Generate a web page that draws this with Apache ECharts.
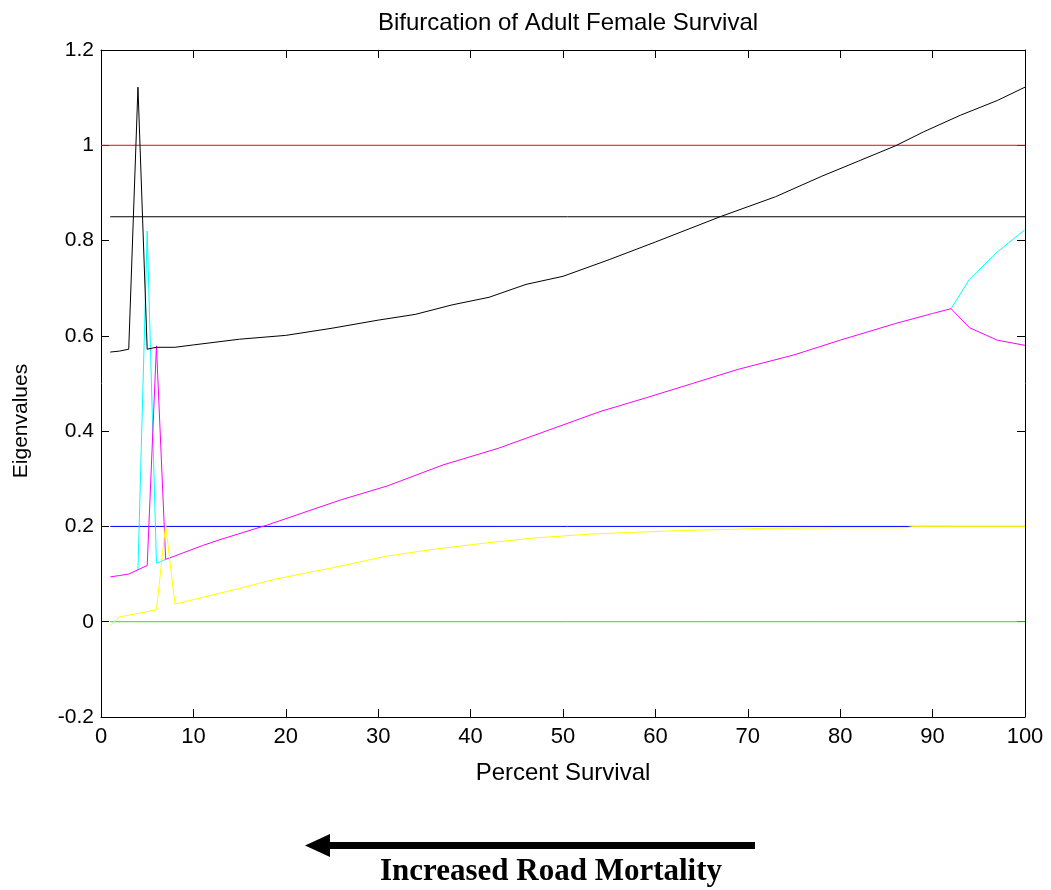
<!DOCTYPE html>
<html>
<head>
<meta charset="utf-8">
<script src="https://cdn.jsdelivr.net/npm/echarts@6/dist/echarts.min.js"></script>
<style>
html,body{margin:0;padding:0;background:#fff;}
#chart{width:1051px;height:890px;}
</style>
</head>
<body>
<div id="chart"></div>
<script>
// ---- data ----
const xTickValues = [0,10,20,30,40,50,60,70,80,90,100];
const yTickValues = [-0.2,0,0.2,0.4,0.6,0.8,1.0,1.2];

// dominant eigenvalue (black)
const blackX = [1,2,3,4,5,6,8,10,15,20,25,30,34,38,42,46,50,55,60,67,73,78,82,86,89,93,97,100];
const blackY = [0.566,0.568,0.572,1.122,0.572,0.576,0.576,0.581,0.593,0.601,0.616,0.633,0.645,0.665,0.681,0.708,0.725,0.760,0.797,0.850,0.892,0.935,0.967,0.999,1.028,1.063,1.094,1.122];

// second eigenvalue (magenta)
const magentaX = [1,2,3,4,5,6,7,8,11,13,18,26,31,37,43,49,54,59,64,69,75,80,86,90,92,94,97,100];
const magentaY = [0.094,0.097,0.100,0.109,0.118,0.579,0.131,0.138,0.160,0.173,0.203,0.256,0.285,0.329,0.364,0.406,0.441,0.470,0.500,0.530,0.560,0.591,0.626,0.647,0.657,0.617,0.591,0.580];

// third eigenvalue (cyan) - visible parts (elsewhere coincides with magenta)
const cyanX1 = [4,5,6,7];
const cyanY1 = [0.109,0.820,0.123,0.131];
const cyanX2 = [92,94,97,100];
const cyanY2 = [0.657,0.719,0.776,0.823];

// fourth eigenvalue (yellow)
const yellowX = [1,2,6,7,8,11,15,19,25,31,36,42,47,53,58,64,72,80,87,88,100];
const yellowY = [-0.008,0.010,0.025,0.204,0.037,0.051,0.070,0.090,0.113,0.138,0.152,0.166,0.176,0.184,0.188,0.192,0.196,0.197,0.197,0.200,0.200];

// reference levels
const redLevel = 1.0,   redSpan = [0,100];
const blackLevel = 0.85, blackSpan = [1,100];
const blueLevel = 0.2,  blueSpan = [1,100];
const greenLevel = 0.0, greenSpan = [1,100];

function pairs(xs, ys){ return xs.map((x,i)=>[x, ys[i]]); }
function level(span, v){ return span.map(x=>[x, v]); }

const FONT = '"Liberation Sans", Arial, sans-serif';

function lineSeries(name, data, color, z){
  return {name, type:'line', data, showSymbol:false, symbol:'none', silent:true,
          lineStyle:{color, width:1}, itemStyle:{color}, z: z, animation:false,
          xAxisIndex:0, yAxisIndex:0};
}

const chart = echarts.init(document.getElementById('chart'), null, {renderer:'canvas'});
const option = {
  animation:false,
  backgroundColor:'#fff',
  title:{
    text:'Bifurcation of Adult Female Survival',
    left:563, top:6, textAlign:'center',
    textStyle:{fontFamily:FONT, fontSize:24, fontWeight:'normal', color:'#000'}
  },
  grid:{left:101, right:26, top:50, bottom:173, containLabel:false},
  xAxis:[
    {type:'value', position:'bottom', min:0, max:100, interval:10,
     name:'Percent Survival', nameLocation:'middle', nameGap:44,
     nameTextStyle:{fontFamily:FONT, fontSize:24, color:'#000'},
     axisLine:{show:true, onZero:false, lineStyle:{color:'#000', width:1}},
     axisTick:{show:true, inside:true, length:8, lineStyle:{color:'#000'}},
     axisLabel:{fontFamily:FONT, fontSize:22, color:'#000', margin:9},
     splitLine:{show:false}},
    {type:'value', position:'top', min:0, max:100, interval:10,
     axisLine:{show:true, onZero:false, lineStyle:{color:'#000', width:1}},
     axisTick:{show:true, inside:true, length:8, lineStyle:{color:'#000'}},
     axisLabel:{show:false}, splitLine:{show:false}}
  ],
  yAxis:[
    {type:'value', position:'left', min:-0.2, max:1.2, interval:0.2,
     axisLine:{show:true, onZero:false, lineStyle:{color:'#000', width:1}},
     axisTick:{show:true, inside:true, length:8, lineStyle:{color:'#000'}},
     axisLabel:{fontFamily:FONT, fontSize:21, color:'#000', margin:7,
       formatter:v=>String(+v.toFixed(1))},
     splitLine:{show:false}},
    {type:'value', position:'right', min:-0.2, max:1.2, interval:0.2,
     axisLine:{show:true, onZero:false, lineStyle:{color:'#000', width:1}},
     axisTick:{show:true, inside:true, length:8, lineStyle:{color:'#000'}},
     axisLabel:{show:false}, splitLine:{show:false}}
  ],
  series:[
    lineSeries('level1', level(redSpan, redLevel), '#ff0000', 2),
    lineSeries('level085', level(blackSpan, blackLevel), '#000000', 2),
    lineSeries('level02', level(blueSpan, blueLevel), '#0000ff', 2),
    lineSeries('level0', level(greenSpan, greenLevel), '#00ff00', 2),
    lineSeries('cyanA', pairs(cyanX1, cyanY1), '#00ffff', 3),
    lineSeries('cyanB', pairs(cyanX2, cyanY2), '#00ffff', 3),
    lineSeries('magenta', pairs(magentaX, magentaY), '#ff00ff', 4),
    lineSeries('yellow', pairs(yellowX, yellowY), '#ffff00', 5),
    lineSeries('black', pairs(blackX, blackY), '#000000', 6)
  ],
  graphic:[
    {type:'text', x:21, y:421, rotation:Math.PI/2,
     style:{text:'Eigenvalues', x:0, y:0, align:'center', verticalAlign:'middle',
       font:'21px "Liberation Sans", Arial, sans-serif', fill:'#000'}},
    {type:'rect', shape:{x:328, y:842, width:427, height:7}, style:{fill:'#000'}},
    {type:'polygon', shape:{points:[[305,845.5],[330,834],[330,857]]}, style:{fill:'#000'}},
    {type:'text', x:551, y:856, style:{text:'Increased Road Mortality', x:0, y:0,
      align:'center', verticalAlign:'top',
      font:'bold 31px "Liberation Serif", "Times New Roman", serif', fill:'#000'}}
  ]
};
chart.setOption(option);
</script>
</body>
</html>
